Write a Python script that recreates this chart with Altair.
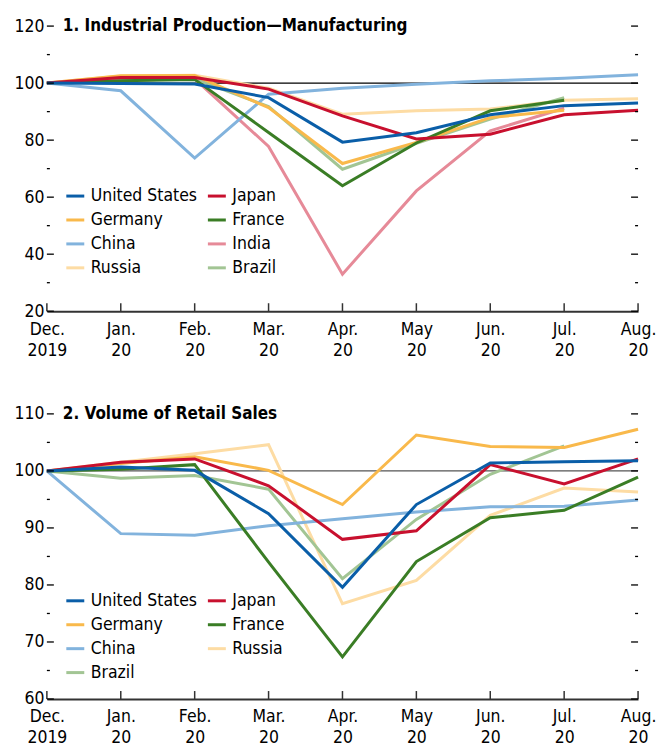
import altair as alt
import pandas as pd

FONT = "DejaVu Sans Condensed, Liberation Sans Narrow, sans-serif"
FS = 17.5

months = ["Dec.|2019", "Jan.|20", "Feb.|20", "Mar.|20", "Apr.|20",
          "May|20", "Jun.|20", "Jul.|20", "Aug.|20"]

# ---- Panel 1: Industrial Production - Manufacturing ----
ip_title = "1. Industrial Production\u2014Manufacturing"
ip_countries = ["United States", "Japan", "Germany", "France",
                "China", "India", "Russia", "Brazil"]
ip_us = [100, 99.9, 99.7, 94.9, 79.3, 82.6, 88.9, 92.1, 93.0]
ip_japan = [100, 102.0, 102.0, 97.9, 88.5, 80.4, 82.1, 88.9, 90.5]
ip_germany = [100, 102.6, 102.7, 91.4, 71.8, 79.2, 87.9, 90.5, None]
ip_france = [100, 100.8, 101.3, 82.7, 64.0, 79.0, 90.3, 94.0, None]
ip_china = [100, 97.3, 73.7, 96.1, 98.2, 99.6, 100.8, 101.7, 102.9]
ip_india = [100, 101.0, 101.5, 77.8, 33.0, 62.2, 83.3, 91.2, None]
ip_russia = [100, 102.5, 102.8, 98.2, 89.1, 90.3, 90.9, 94.0, 94.5]
ip_brazil = [100, 101.0, 101.5, 91.8, 69.8, 78.9, 87.4, 94.9, None]
ip_major = [20, 40, 60, 80, 100, 120]
ip_minor = [30, 50, 70, 90, 110]

# ---- Panel 2: Volume of Retail Sales ----
rs_title = "2. Volume of Retail Sales"
rs_countries = ["United States", "Japan", "Germany", "France",
                "China", "Russia", "Brazil"]
rs_us = [100, 100.7, 100.1, 92.5, 79.6, 94.1, 101.4, 101.6, 101.8]
rs_japan = [100, 101.5, 102.1, 97.4, 88.0, 89.5, 101.1, 97.7, 102.1]
rs_germany = [100, 101.3, 102.5, 100.1, 94.1, 106.3, 104.3, 104.1, 107.3]
rs_france = [100, 100.3, 101.1, 84.0, 67.4, 84.1, 91.8, 93.1, 98.9]
rs_china = [100, 89.0, 88.7, 90.4, 91.6, 92.8, 93.7, 93.8, 94.9]
rs_russia = [100, 101.5, 103.0, 104.6, 76.7, 80.8, 92.2, 97.0, 96.3]
rs_brazil = [100, 98.7, 99.2, 96.8, 81.1, 91.5, 99.4, 104.4, None]
rs_major = [60, 70, 80, 90, 100, 110]
rs_minor = [65, 75, 85, 95, 105]

baseline = 100

color_map = {
    "United States": "#0a5ea8",
    "Japan": "#c8102e",
    "Germany": "#f9b94b",
    "France": "#3a7d25",
    "China": "#82b3dd",
    "India": "#e68a98",
    "Russia": "#fddca4",
    "Brazil": "#a2c594",
}

# drawing order bottom -> top
draw_order = ["Russia", "Brazil", "India", "China", "Germany", "France", "Japan", "United States"]

W, H = 593, 286


def make_df(series):
    rows = []
    for name in draw_order:
        if name not in series:
            continue
        for m, v in zip(months, series[name]):
            if v is not None:
                rows.append({"country": name, "month": m, "value": v})
    return pd.DataFrame(rows)


def column_major(order):
    # legend fills column by column; reorder so it reads row by row
    return order[0::2] + order[1::2]


def panel(series, order, major, minor, ymin, ymax, title, legend_y, base_color):
    df = make_df(series)
    xenc = alt.X("month:O", sort=months,
                 scale=alt.Scale(type="point", padding=0, domain=months),
                 axis=alt.Axis(title=None, labelExpr="split(datum.label, '|')",
                               labelFontSize=FS, labelFont=FONT, labelColor="black",
                               labelPadding=9, labelLineHeight=21, labelAngle=0,
                               ticks=False, domainColor="#333333", domainWidth=2,
                               labelOverlap=False, grid=False))
    yscale = alt.Scale(domain=[ymin, ymax], nice=False, zero=False)
    yenc = alt.Y("value:Q", scale=yscale,
                 axis=alt.Axis(title=None, values=major, ticks=False, domain=False,
                               grid=False, labelFontSize=FS, labelFont=FONT,
                               labelColor="black", labelPadding=3))
    dom = column_major(order)
    lines = alt.Chart(df).mark_line(strokeWidth=3).encode(
        x=xenc, y=yenc,
        color=alt.Color("country:N",
                        scale=alt.Scale(domain=dom, range=[color_map[c] for c in dom]),
                        legend=alt.Legend(title=None, orient="none", legendX=18, legendY=legend_y,
                                          columns=2, symbolType="stroke", symbolSize=324,
                                          symbolStrokeWidth=3, labelFontSize=FS, labelFont=FONT,
                                          labelColor="black", rowPadding=5, columnPadding=4,
                                          labelOffset=5, padding=0, labelLimit=200)))
    ref = alt.Chart(pd.DataFrame({"value": [baseline]})).mark_rule(
        color=base_color, strokeWidth=1.2).encode(y=yenc)

    xt = alt.Chart(pd.DataFrame({"month": months})).mark_rule(
        color="#333333", strokeWidth=1.5).encode(
        x=xenc, y=alt.value(H - 8), y2=alt.value(H))

    majdf = pd.DataFrame({"value": major})
    mindf = pd.DataFrame({"value": minor})
    yl_major = alt.Chart(majdf).mark_rule(color="black", strokeWidth=1.3).encode(
        y=yenc, x=alt.value(0), x2=alt.value(7))
    yr_major = alt.Chart(majdf).mark_rule(color="black", strokeWidth=1.3).encode(
        y=yenc, x=alt.value(W - 7), x2=alt.value(W))
    yl_minor = alt.Chart(mindf).mark_rule(color="black", strokeWidth=1.3).encode(
        y=yenc, x=alt.value(0), x2=alt.value(3))
    yr_minor = alt.Chart(mindf).mark_rule(color="black", strokeWidth=1.3).encode(
        y=yenc, x=alt.value(W - 3), x2=alt.value(W))

    ttl = alt.Chart(pd.DataFrame({"t": [title]})).mark_text(
        font=FONT, fontSize=17, fontWeight="bold", align="left", baseline="middle",
        color="black").encode(text="t:N", x=alt.value(16), y=alt.value(0))

    return alt.layer(ref, lines, xt, yl_major, yr_major, yl_minor, yr_minor, ttl).properties(
        width=W, height=H)


ip_series = {"United States": ip_us, "Japan": ip_japan, "Germany": ip_germany,
             "France": ip_france, "China": ip_china, "India": ip_india,
             "Russia": ip_russia, "Brazil": ip_brazil}
rs_series = {"United States": rs_us, "Japan": rs_japan, "Germany": rs_germany,
             "France": rs_france, "China": rs_china, "Russia": rs_russia,
             "Brazil": rs_brazil}

p1 = panel(ip_series, ip_countries, ip_major, ip_minor, 20, 120, ip_title, 160, "black")
p2 = panel(rs_series, rs_countries, rs_major, rs_minor, 60, 110, rs_title, 177, "#555555")

chart = alt.vconcat(p1, p2, spacing=46).resolve_scale(color="independent").resolve_legend(
    color="independent").properties(
    padding={"left": 5, "top": 8, "right": 0, "bottom": 0}).configure(
    font=FONT, view=alt.ViewConfig(stroke=None))

chart.save("out.html", embed_options={"renderer": "svg", "actions": False})
